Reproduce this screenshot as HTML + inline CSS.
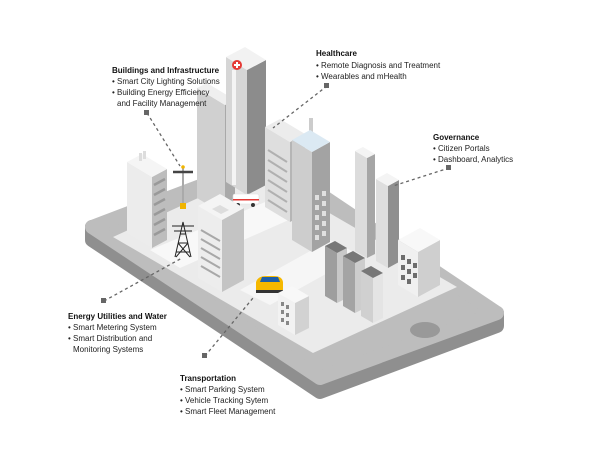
<!DOCTYPE html>
<html><head><meta charset="utf-8"><style>
html,body{margin:0;padding:0;background:#fff;width:600px;height:450px;overflow:hidden}
svg text{font-family:"Liberation Sans",sans-serif;font-size:8px;fill:#222}
svg text.t{font-weight:bold;fill:#111}
</style></head><body>
<svg width="600" height="450" viewBox="0 0 600 450" xmlns="http://www.w3.org/2000/svg">
<!-- phone -->
<polygon points="92,227 320,378 497,313 497,326 320,392 92,240" fill="#8f8f8f" stroke="#8f8f8f" stroke-width="14" stroke-linejoin="round"/>
<polygon points="92,227 269,160 497,313 320,378" fill="#bdbdbd" stroke="#bdbdbd" stroke-width="14" stroke-linejoin="round"/>
<polygon points="113,237 257,171 457,287 313,353" fill="#ebebeb"/>
<polygon points="150,250 270,200 300,215 180,268" fill="#f8f8f8"/>
<polygon points="240,290 330,240 360,255 270,305" fill="#f6f6f6"/>
<ellipse cx="425" cy="330" rx="15" ry="8" fill="#999"/>
<!-- B3 -->
<polygon points="225,215 197,198 197,88 225,105" fill="#d0d0d0"/>
<polygon points="225,215 235,210 235,100 225,105" fill="#a9a9a9"/>
<polygon points="225,105 197,88 207,83 235,100" fill="#efefef"/>
<!-- tower -->
<polygon points="247,195 226,182 226,57 247,70" fill="#d6d6d6"/>
<rect x="232" y="70" width="4" height="115" fill="#f4f4f4"/>
<polygon points="247,195 266,185 266,60 247,70" fill="#8c8c8c"/>
<polygon points="247,70 226,57 245,47 266,60" fill="#f2f2f2"/>
<circle cx="237" cy="65" r="5" fill="#e53935"/><rect x="236" y="62" width="2" height="6" fill="#fff"/><rect x="234" y="64" width="6" height="2" fill="#fff"/>
<!-- B4 -->
<polygon points="290,222 265,207 265,127 290,142" fill="#dedede"/>
<g stroke="#b0b0b0" stroke-width="2"><line x1="268" y1="150" x2="287" y2="162"/><line x1="268" y1="160" x2="287" y2="172"/><line x1="268" y1="170" x2="287" y2="182"/><line x1="268" y1="180" x2="287" y2="192"/><line x1="268" y1="190" x2="287" y2="202"/><line x1="268" y1="200" x2="287" y2="212"/></g>
<polygon points="290,222 305,214 305,134 290,142" fill="#b5b5b5"/>
<polygon points="290,142 265,127 280,119 305,134" fill="#ececec"/>
<!-- B5 -->
<rect x="309" y="118" width="4" height="14" fill="#ccc"/>
<polygon points="312,252 292,240 292,140 312,152" fill="#cdcdcd"/>
<polygon points="312,252 330,242 330,142 312,152" fill="#a3a3a3"/>
<g fill="#e0e0e0"><rect x="315" y="195" width="4" height="5"/><rect x="322" y="191" width="4" height="5"/><rect x="315" y="205" width="4" height="5"/><rect x="322" y="201" width="4" height="5"/><rect x="315" y="215" width="4" height="5"/><rect x="322" y="211" width="4" height="5"/><rect x="315" y="225" width="4" height="5"/><rect x="322" y="221" width="4" height="5"/><rect x="315" y="235" width="4" height="5"/><rect x="322" y="231" width="4" height="5"/></g>
<polygon points="312,152 292,140 310,130 330,142" fill="#dbe9f3"/>
<!-- ambulance -->
<rect x="233" y="194" width="26" height="10" rx="2" fill="#fff" stroke="#ddd" stroke-width="0.6"/>
<rect x="233" y="199" width="26" height="1.5" fill="#e53935"/>
<circle cx="238" cy="205" r="2" fill="#333"/><circle cx="253" cy="205" r="2" fill="#333"/>
<!-- B1 -->
<polygon points="152,248 127,233 127,162 152,177" fill="#ececec"/>
<polygon points="152,248 167,240 167,169 152,177" fill="#bdbdbd"/>
<g stroke="#999" stroke-width="2.5"><line x1="154" y1="185" x2="165" y2="179"/><line x1="154" y1="195" x2="165" y2="189"/><line x1="154" y1="205" x2="165" y2="199"/><line x1="154" y1="215" x2="165" y2="209"/><line x1="154" y1="225" x2="165" y2="219"/><line x1="154" y1="235" x2="165" y2="229"/></g>
<polygon points="152,177 127,162 142,154 167,169" fill="#f5f5f5"/>
<rect x="139" y="153" width="3" height="8" fill="#ddd"/><rect x="143" y="151" width="3" height="8" fill="#ddd"/>
<!-- pole -->
<line x1="183" y1="167" x2="183" y2="205" stroke="#aaa" stroke-width="2"/>
<path d="M173,172 L193,172" stroke="#444" stroke-width="2.5"/>
<circle cx="183" cy="167" r="1.8" fill="#f0b400"/>
<rect x="180" y="203" width="6" height="6" fill="#f0b400"/>
<!-- power tower -->
<g stroke="#222" stroke-width="1" fill="none">
<path d="M175,257 L183,222 L191,257 M178,243 L188,243 M176,252 L190,252 M180,234 L186,234 M178,243 L190,257 M188,243 L176,257"/>
<path d="M172,226 L194,226 M174,231 L192,231"/>
</g>
<!-- B6 -->
<polygon points="222,292 198,278 198,206 222,220" fill="#ededed"/>
<polygon points="222,292 244,280 244,208 222,220" fill="#c4c4c4"/>
<g stroke="#a8a8a8" stroke-width="2"><line x1="201" y1="230" x2="220" y2="241"/><line x1="201" y1="239" x2="220" y2="250"/><line x1="201" y1="248" x2="220" y2="259"/><line x1="201" y1="257" x2="220" y2="268"/><line x1="201" y1="266" x2="220" y2="277"/></g>
<polygon points="222,220 198,206 220,194 244,208" fill="#f4f4f4"/>
<polygon points="221,214 212,209 220,205 229,210" fill="#ddd"/>
<!-- car -->
<path d="M256,282 Q258,276 266,276 L274,276 Q282,276 283,282 L283,291 L256,291 Z" fill="#f5b800"/>
<path d="M260,282 L262,277 L278,277 L280,282 Z" fill="#1e5fa8"/>
<rect x="256" y="290" width="27" height="3" fill="#333"/>
<!-- B7 -->
<polygon points="367,258 355,251 355,151 367,158" fill="#dcdcdc"/>
<polygon points="367,258 375,254 375,154 367,158" fill="#a6a6a6"/>
<polygon points="367,158 355,151 363,147 375,154" fill="#f4f4f4"/>
<polygon points="388,268 376,261 376,179 388,186" fill="#dedede"/>
<polygon points="388,268 399,262 399,180 388,186" fill="#8f8f8f"/>
<polygon points="388,186 376,179 387,173 399,180" fill="#f4f4f4"/>
<!-- B8 -->
<polygon points="418,297 398,285 398,240 418,252" fill="#f0f0f0"/>
<polygon points="418,297 440,285 440,240 418,252" fill="#cfcfcf"/>
<g fill="#6d6d6d"><rect x="401" y="255" width="4" height="5"/><rect x="407" y="259" width="4" height="5"/><rect x="413" y="263" width="4" height="5"/><rect x="401" y="265" width="4" height="5"/><rect x="407" y="269" width="4" height="5"/><rect x="413" y="273" width="4" height="5"/><rect x="401" y="275" width="4" height="5"/><rect x="407" y="279" width="4" height="5"/></g>
<polygon points="418,252 398,240 420,228 440,240" fill="#f8f8f8"/>
<!-- B9 -->
<polygon points="337,303 325,296 325,246 337,253" fill="#9e9e9e"/>
<polygon points="337,303 347,298 347,248 337,253" fill="#c8c8c8"/>
<polygon points="337,253 325,246 335,241 347,248" fill="#777"/>
<polygon points="355,313 343,306 343,256 355,263" fill="#a4a4a4"/>
<polygon points="355,313 365,308 365,258 355,263" fill="#cdcdcd"/>
<polygon points="355,263 343,256 353,251 365,258" fill="#777"/>
<polygon points="373,323 361,316 361,271 373,278" fill="#d0d0d0"/>
<polygon points="373,323 383,318 383,273 373,278" fill="#e4e4e4"/>
<polygon points="373,278 361,271 371,266 383,273" fill="#777"/>
<!-- B10 -->
<polygon points="295,335 278,325 278,293 295,303" fill="#f2f2f2"/>
<polygon points="295,335 309,328 309,296 295,303" fill="#d2d2d2"/>
<g fill="#888"><rect x="281" y="302" width="3" height="4"/><rect x="286" y="305" width="3" height="4"/><rect x="281" y="310" width="3" height="4"/><rect x="286" y="313" width="3" height="4"/><rect x="281" y="318" width="3" height="4"/><rect x="286" y="321" width="3" height="4"/></g>
<polygon points="295,303 278,293 292,286 309,296" fill="#f8f8f8"/>
<!-- dashed leaders -->
<g stroke="#666" stroke-width="1.3" stroke-dasharray="3,3" fill="none">
<line x1="147" y1="113" x2="180" y2="166"/>
<line x1="327" y1="86" x2="273" y2="128"/>
<line x1="449" y1="168" x2="393" y2="186"/>
<line x1="104" y1="301" x2="182" y2="258"/>
<line x1="205" y1="356" x2="253" y2="298"/>
</g>
<g fill="#666"><rect x="144" y="110" width="5" height="5"/><rect x="324" y="83" width="5" height="5"/><rect x="446" y="165" width="5" height="5"/><rect x="101" y="298" width="5" height="5"/><rect x="202" y="353" width="5" height="5"/></g>
<!-- labels -->
<text class="t" x="112" y="73">Buildings and Infrastructure</text>
<text x="112" y="84">• Smart City Lighting Solutions</text>
<text x="112" y="95">• Building Energy Efficiency</text>
<text x="117" y="106">and Facility Management</text>
<text class="t" x="316" y="56">Healthcare</text>
<text x="316" y="68">• Remote Diagnosis and Treatment</text>
<text x="316" y="79">• Wearables and mHealth</text>
<text class="t" x="433" y="140">Governance</text>
<text x="433" y="151">• Citizen Portals</text>
<text x="433" y="162">• Dashboard, Analytics</text>
<text class="t" x="68" y="319">Energy Utilities and Water</text>
<text x="68" y="330">• Smart Metering System</text>
<text x="68" y="341">• Smart Distribution and</text>
<text x="73" y="352">Monitoring Systems</text>
<text class="t" x="180" y="381">Transportation</text>
<text x="180" y="392">• Smart Parking System</text>
<text x="180" y="403">• Vehicle Tracking Sytem</text>
<text x="180" y="414">• Smart Fleet Management</text>
</svg>
</body></html>
